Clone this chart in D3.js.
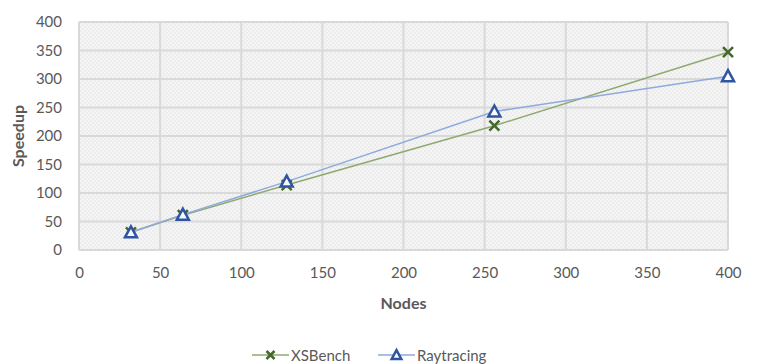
<!DOCTYPE html>
<html>
<head>
<meta charset="utf-8">
<script src="https://cdn.jsdelivr.net/npm/d3@7/dist/d3.min.js"></script>
<style>
  html, body { margin: 0; padding: 0; background: #fff; }
  svg { display: block; font-family: Lato, "Open Sans", sans-serif; }
</style>
</head>
<body>
<svg id="chart" width="765" height="364"></svg>
<script>
// Node counts and measured speedups
const nodes = [32, 64, 128, 256, 400];
const xsbench = [31, 61, 114, 218, 347];
const raytracing = [31, 62, 120, 243, 305];
const xTicks = [0, 50, 100, 150, 200, 250, 300, 350, 400];
const yTicks = [0, 50, 100, 150, 200, 250, 300, 350, 400];

const svg = d3.select("#chart");
const margin = { left: 79, right: 37, top: 22, bottom: 114 };
const W = 765, H = 364;
const pw = W - margin.left - margin.right;
const ph = H - margin.top - margin.bottom;

const x = d3.scaleLinear().domain([0, 400]).range([margin.left, margin.left + pw]);
const y = d3.scaleLinear().domain([0, 400]).range([margin.top + ph, margin.top]);

// Dotted texture for the plot area
const defs = svg.append("defs");
const pat = defs.append("pattern")
  .attr("id", "dots").attr("patternUnits", "userSpaceOnUse")
  .attr("width", 4).attr("height", 4);
pat.append("rect").attr("width", 4).attr("height", 4).attr("fill", "#ececec");
pat.append("circle").attr("cx", 1).attr("cy", 1).attr("r", 1).attr("fill", "#f8f8f8");
pat.append("circle").attr("cx", 3).attr("cy", 3).attr("r", 1).attr("fill", "#f8f8f8");

svg.append("rect")
  .attr("x", margin.left).attr("y", margin.top)
  .attr("width", pw).attr("height", ph)
  .attr("fill", "url(#dots)");

// Gridlines
const grid = svg.append("g");
grid.selectAll("line.h").data(yTicks).join("line")
  .attr("x1", x(0)).attr("x2", x(400))
  .attr("y1", d => y(d)).attr("y2", d => y(d))
  .attr("stroke", "#d9d9d9").attr("stroke-width", 2);
grid.selectAll("line.v").data(xTicks).join("line")
  .attr("y1", y(0)).attr("y2", y(400))
  .attr("x1", d => x(d)).attr("x2", d => x(d))
  .attr("stroke", "#d9d9d9").attr("stroke-width", 2);

// Axes (labels only)
const yAxis = svg.append("g")
  .attr("transform", `translate(${margin.left},0)`)
  .call(d3.axisLeft(y).tickValues(yTicks).tickSize(0).tickPadding(17));
const xAxis = svg.append("g")
  .attr("transform", `translate(0,${margin.top + ph})`)
  .call(d3.axisBottom(x).tickValues(xTicks).tickSize(0).tickPadding(17));
[xAxis, yAxis].forEach(a => {
  a.select(".domain").remove();
  a.selectAll("text").attr("fill", "#595959")
    .style("font-size", "15px").style("font-family", "Lato, sans-serif");
});

// Axis titles
svg.append("text")
  .attr("transform", `translate(24,${y(200)}) rotate(-90)`)
  .attr("text-anchor", "middle")
  .attr("fill", "#595959").style("font-size", "16px").style("font-weight", "bold")
  .text("Speedup");
svg.append("text")
  .attr("x", x(200)).attr("y", 309)
  .attr("text-anchor", "middle")
  .attr("fill", "#595959").style("font-size", "16px").style("font-weight", "bold")
  .text("Nodes");

const series = [
  { name: "XSBench", values: xsbench, line: "#8eaa70", mark: "#43682a", shape: "x" },
  { name: "Raytracing", values: raytracing, line: "#8faadc", mark: "#2e54a3", shape: "tri" }
];

function drawMarker(g, shape, color, s) {
  if (shape === "x") {
    g.append("path").attr("d", `M${-5*s},${-5*s}L${5*s},${5*s}M${-5*s},${5*s}L${5*s},${-5*s}`)
      .attr("stroke", color).attr("stroke-width", 2.5).attr("fill", "none");
  } else {
    g.append("path").attr("d", `M0,${-6*s}L${6*s},${5*s}L${-6*s},${5*s}Z`)
      .attr("stroke", color).attr("stroke-width", 2.5).attr("fill", "#fafafa")
      .attr("stroke-linejoin", "miter");
  }
}

const line = d3.line().x(d => x(d[0])).y(d => y(d[1]));
series.forEach(s => {
  const pts = nodes.map((n, i) => [n, s.values[i]]);
  svg.append("path").datum(pts)
    .attr("d", line).attr("fill", "none")
    .attr("stroke", s.line).attr("stroke-width", 1.5);
});
series.forEach(s => {
  nodes.forEach((n, i) => {
    const g = svg.append("g").attr("transform", `translate(${x(n)},${y(s.values[i])})`);
    drawMarker(g, s.shape, s.mark, 1);
  });
});

// Legend
const legend = svg.append("g").attr("transform", "translate(0,355)");
const legendX = [252, 378];
series.forEach((s, i) => {
  const g = legend.append("g").attr("transform", `translate(${legendX[i]},0)`);
  g.append("line").attr("x1", 0).attr("x2", 37).attr("y1", 0).attr("y2", 0)
    .attr("stroke", s.line).attr("stroke-width", 1.5);
  const m = g.append("g").attr("transform", "translate(18.5,0)");
  drawMarker(m, s.shape, s.mark, 0.8);
  g.append("text").attr("x", 39).attr("y", 6)
    .attr("fill", "#595959").style("font-size", "15px")
    .text(s.name);
});
</script>
</body>
</html>
